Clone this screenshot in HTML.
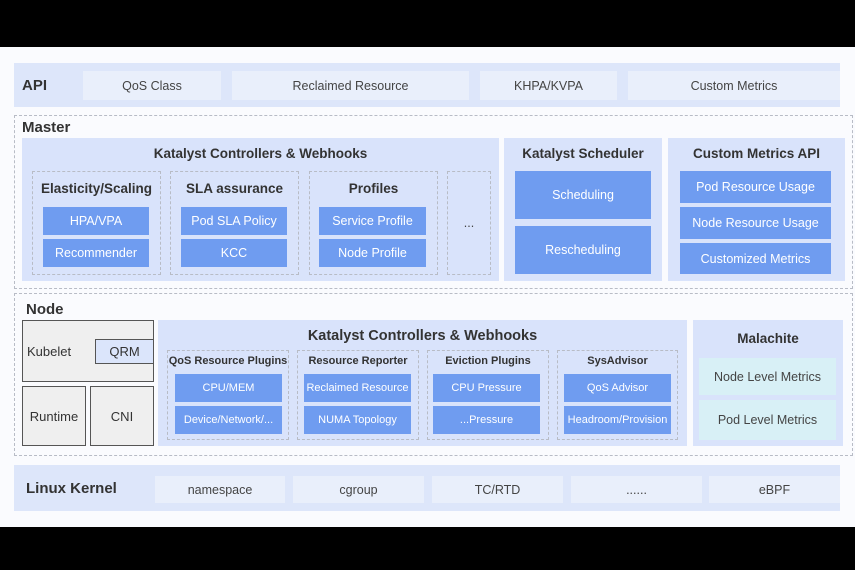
<!DOCTYPE html>
<html><head><meta charset="utf-8"><style>
body{margin:0;width:855px;height:570px;background:#000;position:relative;overflow:hidden;font-family:"Liberation Sans",sans-serif;}
#w{position:absolute;left:0;top:47px;width:855px;height:480px;background:#fafbfe;}
div.a{position:absolute;box-sizing:border-box;display:flex;align-items:center;justify-content:center;text-align:center;color:#444;font-size:12.5px;}
.bar{background:#dde6fa;}
.in{background:#e9effb;}
.grp{background:#d9e3fb;}
.dash{border:1px dashed #b8bcc6;}
.btn{background:#6f9cf0;color:#fff !important;}
.gray{background:#efefef;border:1.5px solid #555;color:#333 !important;font-size:13px !important;}
.cy{background:#d8f0f6;}
.t{font-weight:bold;color:#333 !important;font-size:13.5px !important;}
.lbl{font-weight:bold;color:#333 !important;font-size:15px !important;justify-content:flex-start !important;}
.s{font-size:11px !important;}
</style></head><body>
<div id="w"></div>
<!-- API -->
<div class="a bar" style="left:14px;top:63px;width:826px;height:44px"></div>
<div class="a lbl" style="left:22px;top:63px;width:60px;height:44px">API</div>
<div class="a in" style="left:83px;top:71px;width:138px;height:29px">QoS Class</div>
<div class="a in" style="left:232px;top:71px;width:237px;height:29px">Reclaimed Resource</div>
<div class="a in" style="left:480px;top:71px;width:137px;height:29px">KHPA/KVPA</div>
<div class="a in" style="left:628px;top:71px;width:212px;height:29px">Custom Metrics</div>
<!-- Master -->
<div class="a dash" style="left:14px;top:115px;width:839px;height:174px"></div>
<div class="a lbl" style="left:22px;top:118px;width:80px;height:18px">Master</div>
<div class="a grp" style="left:22px;top:138px;width:477px;height:143px"></div>
<div class="a t" style="left:22px;top:144px;width:477px;height:18px">Katalyst Controllers &amp; Webhooks</div>
<div class="a dash" style="left:32px;top:171px;width:129px;height:104px"></div>
<div class="a t" style="left:32px;top:179px;width:129px;height:18px">Elasticity/Scaling</div>
<div class="a btn" style="left:43px;top:207px;width:106px;height:28px">HPA/VPA</div>
<div class="a btn" style="left:43px;top:239px;width:106px;height:28px">Recommender</div>
<div class="a dash" style="left:170px;top:171px;width:129px;height:104px"></div>
<div class="a t" style="left:170px;top:179px;width:129px;height:18px">SLA assurance</div>
<div class="a btn" style="left:181px;top:207px;width:106px;height:28px">Pod SLA Policy</div>
<div class="a btn" style="left:181px;top:239px;width:106px;height:28px">KCC</div>
<div class="a dash" style="left:309px;top:171px;width:129px;height:104px"></div>
<div class="a t" style="left:309px;top:179px;width:129px;height:18px">Profiles</div>
<div class="a btn" style="left:319px;top:207px;width:107px;height:28px">Service Profile</div>
<div class="a btn" style="left:319px;top:239px;width:107px;height:28px">Node Profile</div>
<div class="a dash" style="left:447px;top:171px;width:44px;height:104px">...</div>
<div class="a grp" style="left:504px;top:138px;width:158px;height:143px"></div>
<div class="a t" style="left:504px;top:144px;width:158px;height:18px">Katalyst Scheduler</div>
<div class="a btn" style="left:515px;top:171px;width:136px;height:48px">Scheduling</div>
<div class="a btn" style="left:515px;top:226px;width:136px;height:48px">Rescheduling</div>
<div class="a grp" style="left:668px;top:138px;width:177px;height:143px"></div>
<div class="a t" style="left:668px;top:144px;width:177px;height:18px">Custom Metrics API</div>
<div class="a btn" style="left:680px;top:171px;width:151px;height:32px">Pod Resource Usage</div>
<div class="a btn" style="left:680px;top:207px;width:151px;height:32px">Node Resource Usage</div>
<div class="a btn" style="left:680px;top:243px;width:151px;height:31px">Customized Metrics</div>
<!-- Node -->
<div class="a dash" style="left:14px;top:293px;width:839px;height:163px"></div>
<div class="a lbl" style="left:26px;top:300px;width:80px;height:18px">Node</div>
<div class="a gray" style="left:22px;top:320px;width:132px;height:62px;justify-content:flex-start;padding-left:4px">Kubelet</div>
<div class="a" style="left:95px;top:339px;width:59px;height:25px;background:#dbe5fb;border:1.5px solid #555;color:#333;font-size:13px">QRM</div>
<div class="a gray" style="left:22px;top:386px;width:64px;height:60px">Runtime</div>
<div class="a gray" style="left:90px;top:386px;width:64px;height:60px">CNI</div>
<div class="a grp" style="left:158px;top:320px;width:529px;height:126px"></div>
<div class="a t" style="left:158px;top:327px;width:529px;height:18px;font-size:14.5px !important">Katalyst Controllers &amp; Webhooks</div>
<div class="a dash" style="left:167px;top:350px;width:122px;height:90px"></div>
<div class="a t s" style="left:167px;top:353px;width:122px;height:16px">QoS Resource Plugins</div>
<div class="a btn s" style="left:175px;top:374px;width:107px;height:28px">CPU/MEM</div>
<div class="a btn s" style="left:175px;top:406px;width:107px;height:28px">Device/Network/...</div>
<div class="a dash" style="left:297px;top:350px;width:122px;height:90px"></div>
<div class="a t s" style="left:297px;top:353px;width:122px;height:16px">Resource Reporter</div>
<div class="a btn s" style="left:304px;top:374px;width:107px;height:28px">Reclaimed Resource</div>
<div class="a btn s" style="left:304px;top:406px;width:107px;height:28px">NUMA Topology</div>
<div class="a dash" style="left:427px;top:350px;width:122px;height:90px"></div>
<div class="a t s" style="left:427px;top:353px;width:122px;height:16px">Eviction Plugins</div>
<div class="a btn s" style="left:433px;top:374px;width:107px;height:28px">CPU Pressure</div>
<div class="a btn s" style="left:433px;top:406px;width:107px;height:28px">...Pressure</div>
<div class="a dash" style="left:557px;top:350px;width:121px;height:90px"></div>
<div class="a t s" style="left:557px;top:353px;width:121px;height:16px">SysAdvisor</div>
<div class="a btn s" style="left:564px;top:374px;width:107px;height:28px">QoS Advisor</div>
<div class="a btn s" style="left:564px;top:406px;width:107px;height:28px">Headroom/Provision</div>
<div class="a grp" style="left:693px;top:320px;width:150px;height:126px"></div>
<div class="a t" style="left:693px;top:329px;width:150px;height:18px">Malachite</div>
<div class="a cy" style="left:699px;top:358px;width:137px;height:37px">Node Level Metrics</div>
<div class="a cy" style="left:699px;top:400px;width:137px;height:40px">Pod Level Metrics</div>
<!-- Kernel -->
<div class="a bar" style="left:14px;top:465px;width:826px;height:46px"></div>
<div class="a lbl" style="left:26px;top:465px;width:120px;height:46px">Linux Kernel</div>
<div class="a in" style="left:155px;top:476px;width:130px;height:27px">namespace</div>
<div class="a in" style="left:293px;top:476px;width:131px;height:27px">cgroup</div>
<div class="a in" style="left:432px;top:476px;width:131px;height:27px">TC/RTD</div>
<div class="a in" style="left:571px;top:476px;width:131px;height:27px">......</div>
<div class="a in" style="left:709px;top:476px;width:131px;height:27px">eBPF</div>
</body></html>
